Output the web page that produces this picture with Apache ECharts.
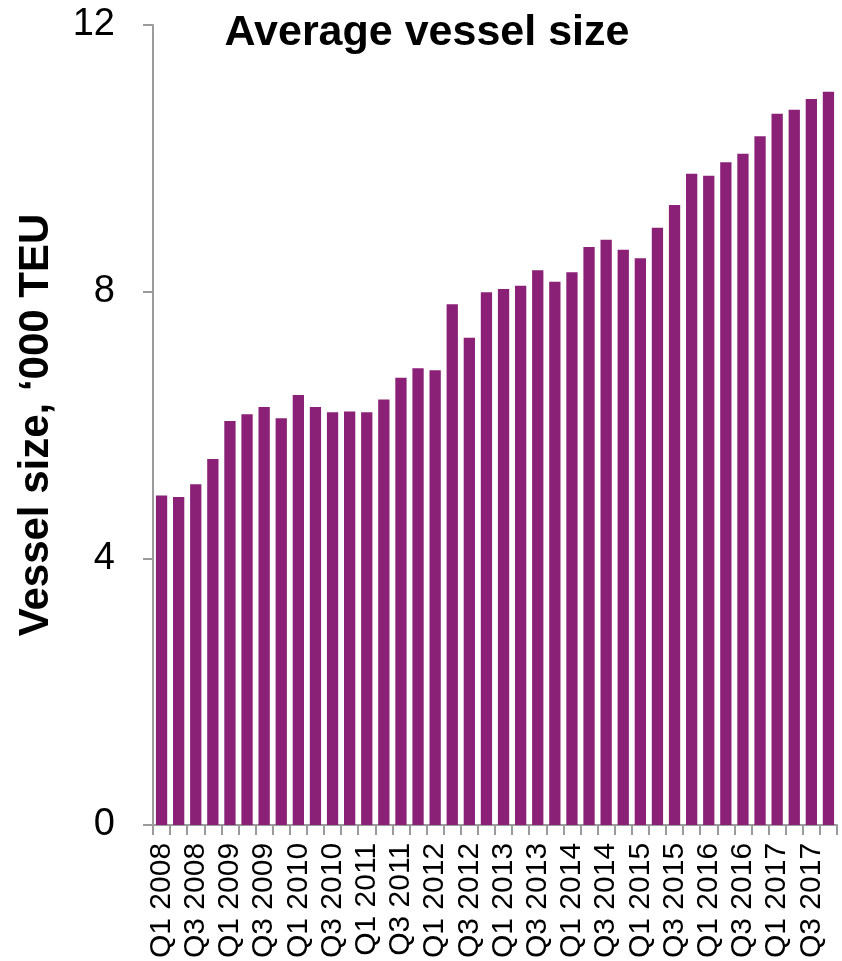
<!DOCTYPE html>
<html>
<head>
<meta charset="utf-8">
<script src="https://cdn.jsdelivr.net/npm/echarts@6/dist/echarts.min.js"></script>
<style>
  html, body { margin: 0; padding: 0; background: #fff; }
  #chart { width: 842px; height: 961px; }
</style>
</head>
<body>
<div id="chart"></div>
<script>
// Quarterly categories, Q1 2008 .. Q4 2017
const quarters = [
  'Q1 2008', 'Q2 2008', 'Q3 2008', 'Q4 2008',
  'Q1 2009', 'Q2 2009', 'Q3 2009', 'Q4 2009',
  'Q1 2010', 'Q2 2010', 'Q3 2010', 'Q4 2010',
  'Q1 2011', 'Q2 2011', 'Q3 2011', 'Q4 2011',
  'Q1 2012', 'Q2 2012', 'Q3 2012', 'Q4 2012',
  'Q1 2013', 'Q2 2013', 'Q3 2013', 'Q4 2013',
  'Q1 2014', 'Q2 2014', 'Q3 2014', 'Q4 2014',
  'Q1 2015', 'Q2 2015', 'Q3 2015', 'Q4 2015',
  'Q1 2016', 'Q2 2016', 'Q3 2016', 'Q4 2016',
  'Q1 2017', 'Q2 2017', 'Q3 2017', 'Q4 2017'
];

// Average vessel size, thousand TEU
const vesselSize = [
  4.94, 4.92, 5.11, 5.49,
  6.06, 6.16, 6.27, 6.10,
  6.45, 6.27, 6.19, 6.20,
  6.19, 6.38, 6.71, 6.85,
  6.82, 7.81, 7.31, 7.99,
  8.04, 8.09, 8.32, 8.15,
  8.29, 8.67, 8.78, 8.63,
  8.50, 8.96, 9.30, 9.77,
  9.74, 9.94, 10.07, 10.33,
  10.67, 10.73, 10.89, 11.00
];

// Value axis ticks
const yTicks = [0, 4, 8, 12];

const axisGray = '#9b9b9b';
const font = 'Liberation Sans, Arial, sans-serif';

const chart = echarts.init(document.getElementById('chart'), null, { renderer: 'canvas' });

chart.setOption({
  animation: false,
  backgroundColor: '#ffffff',
  title: {
    text: 'Average vessel size',
    left: 422,
    textAlign: 'center',
    top: 7,
    textStyle: { fontFamily: font, fontSize: 43, fontWeight: 'bold', color: '#000' }
  },
  grid: { left: 153, right: 5, top: 25, bottom: 135, containLabel: false },
  xAxis: {
    type: 'category',
    data: quarters,
    axisLine: { show: true, lineStyle: { color: axisGray, width: 2 } },
    axisTick: { show: true, interval: 0, length: 10, lineStyle: { color: axisGray, width: 2 } },
    axisLabel: {
      interval: 1,
      rotate: 90,
      margin: 18,
      fontFamily: font,
      fontSize: 30,
      color: '#000'
    },
    splitLine: { show: false }
  },
  yAxis: {
    type: 'value',
    min: yTicks[0],
    max: yTicks[yTicks.length - 1],
    interval: yTicks[1] - yTicks[0],
    name: 'Vessel size, \u2018000 TEU',
    nameLocation: 'middle',
    nameRotate: 90,
    nameGap: 96,
    nameTextStyle: { fontFamily: font, fontSize: 42, fontWeight: 'bold', color: '#000' },
    axisLine: { show: true, lineStyle: { color: axisGray, width: 2 } },
    axisTick: { show: true, length: 10, lineStyle: { color: axisGray, width: 2 } },
    axisLabel: { margin: 38, fontFamily: font, fontSize: 38, color: '#000' },
    splitLine: { show: false }
  },
  series: [{
    type: 'bar',
    data: vesselSize,
    barCategoryGap: '34%',
    itemStyle: { color: '#8a2176' }
  }]
});
</script>
</body>
</html>
